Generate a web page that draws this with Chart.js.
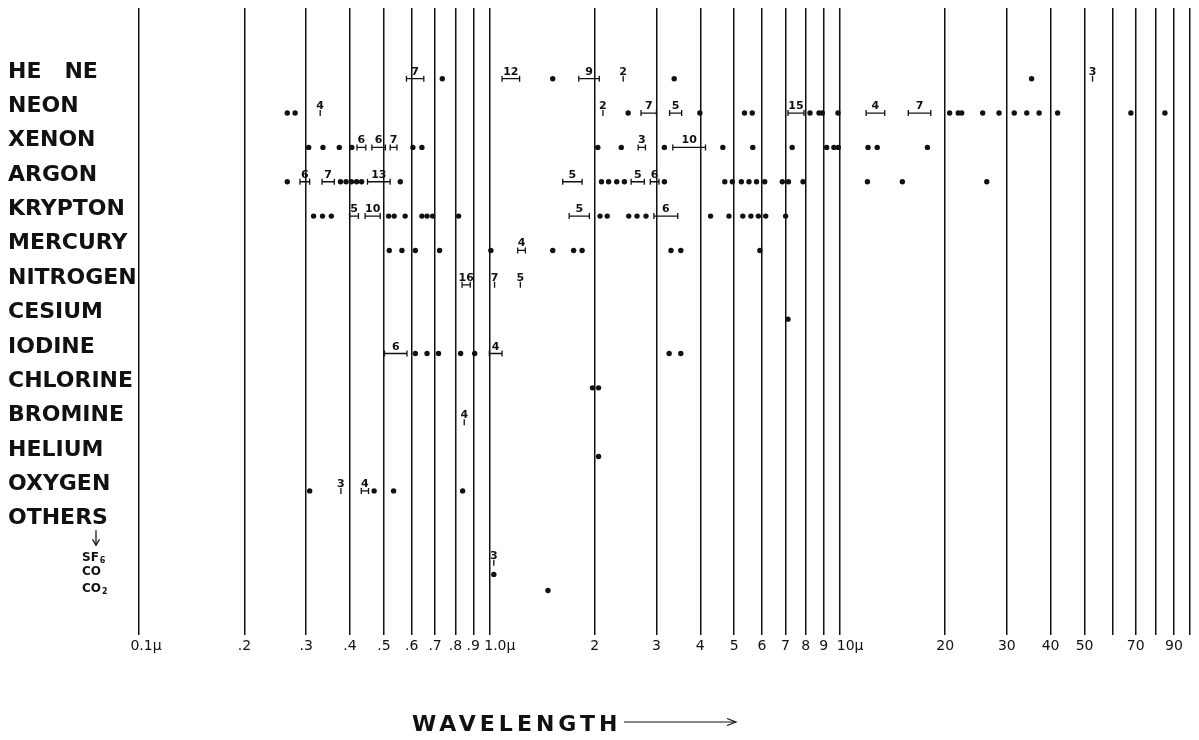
<!DOCTYPE html>
<html>
<head>
<meta charset="utf-8">
<script src="https://cdn.jsdelivr.net/npm/chart.js@4/dist/chart.umd.min.js"></script>
<style>
  html, body { margin: 0; padding: 0; background: #fff; }
  #wrap { width: 1199px; height: 740px; }
</style>
</head>
<body>
<div id="wrap"><canvas id="laserChart"></canvas></div>
<script>
// wavelength axis (microns)
const tickVals = [0.1, 0.2, 0.3, 0.4, 0.5, 0.6, 0.7, 0.8, 0.9, 1, 2, 3, 4, 5, 6, 7, 8, 9, 10, 20, 30, 40, 50, 60, 70, 80, 90, 100];
// leading spaces push the micron labels right of their line, as in the original
const tickText = ['\u20030.1µ', '.2', '.3', '.4', '.5', '.6', '.7', '.8', '.9', '\u2003\u20021.0µ', '2', '3', '4', '5', '6', '7', '8', '9', '\u2003\u200210µ', '20', '30', '40', '50', '', '70', '', '90', ''];

// rows
const rowNames = ['HE   NE', 'NEON', 'XENON', 'ARGON', 'KRYPTON', 'MERCURY', 'NITROGEN', 'CESIUM', 'IODINE', 'CHLORINE', 'BROMINE', 'HELIUM', 'OXYGEN', 'OTHERS'];
const subNames = [['SF', '6'], ['CO', ''], ['CO', '2']];
const rowPos = [0, 1, 2, 3, 4, 5, 6, 7, 8, 9, 10, 11, 12, 13, 14.09, 14.43, 14.9];

// single lines (dots) and groups of lines [from, to, count]
const heNeDots = [0.734, 1.517, 3.37, 35.3];
const heNeBands = [[0.58, 0.65, 7], [1.087, 1.22, 12], [1.80, 2.06, 9], [2.41, 2.41, 2], [52.7, 52.7, 3]];
const neonDots = [0.265, 0.279, 2.49, 3.99, 5.35, 5.63, 8.23, 8.73, 8.92, 9.89, 20.6, 21.8, 22.3, 25.6, 28.5, 31.5, 34.2, 37.1, 41.9, 67.8, 84.8];
const neonBands = [[0.329, 0.329, 4], [2.11, 2.11, 2], [2.71, 3.0, 7], [3.27, 3.54, 5], [7.12, 7.91, 15], [11.9, 13.45, 4], [15.7, 18.2, 7]];
const xenonDots = [0.305, 0.335, 0.373, 0.405, 0.605, 0.642, 2.04, 2.38, 3.16, 4.64, 5.65, 7.32, 9.18, 9.63, 9.91, 12.05, 12.8, 17.8];
const xenonBands = [[0.419, 0.444, 6], [0.462, 0.505, 6], [0.521, 0.545, 7], [2.66, 2.79, 3], [3.34, 4.14, 10]];
const argonDots = [0.265, 0.376, 0.390, 0.404, 0.418, 0.432, 0.557, 2.09, 2.19, 2.31, 2.43, 3.16, 4.70, 4.94, 5.24, 5.51, 5.79, 6.11, 6.86, 7.14, 7.86, 12.0, 15.1, 26.3];
const argonBands = [[0.288, 0.307, 6], [0.333, 0.361, 7], [0.449, 0.521, 13], [1.62, 1.84, 5], [2.54, 2.77, 5], [2.88, 3.05, 6]];
const kryptonDots = [0.315, 0.334, 0.354, 0.516, 0.535, 0.575, 0.642, 0.664, 0.689, 0.817, 2.07, 2.17, 2.50, 2.64, 2.80, 4.28, 4.83, 5.29, 5.58, 5.86, 6.15, 7.01];
const kryptonBands = [[0.399, 0.423, 5], [0.442, 0.488, 10], [1.69, 1.93, 5], [2.95, 3.45, 6]];
const mercuryDots = [0.518, 0.563, 0.615, 0.721, 1.01, 1.517, 1.74, 1.84, 3.30, 3.52, 5.92];
const mercuryBands = [[1.205, 1.267, 4]];
const nitrogenBands = [[0.836, 0.882, 16], [1.035, 1.035, 7], [1.226, 1.226, 5]];
const cesiumDots = [7.12];
const iodineDots = [0.615, 0.664, 0.716, 0.828, 0.908, 3.26, 3.52];
const iodineBands = [[0.502, 0.582, 6], [1.0, 1.087, 4]];
const chlorineDots = [1.97, 2.05];
const bromineBands = [[0.848, 0.848, 4]];
const heliumDots = [2.05];
const oxygenDots = [0.307, 0.469, 0.533, 0.839];
const oxygenBands = [[0.377, 0.377, 3], [0.431, 0.452, 4]];
const sf6Bands = [[1.03, 1.03, 3]];
const coDots = [1.03];
const co2Dots = [1.47];

const dotsByRow = [heNeDots, neonDots, xenonDots, argonDots, kryptonDots, mercuryDots, [], cesiumDots, iodineDots, chlorineDots, [], heliumDots, oxygenDots, [], [], coDots, co2Dots];
const bandsByRow = [heNeBands, neonBands, xenonBands, argonBands, kryptonBands, mercuryBands, nitrogenBands, [], iodineBands, [], bromineBands, [], oxygenBands, [], sf6Bands, [], []];

const INK = '#111';

// build datasets
let dotData = [];
dotsByRow.forEach((arr, i) => arr.forEach(x => dotData.push({ x: x, y: rowPos[i] })));

let bandSets = [];
bandsByRow.forEach((arr, i) => arr.forEach(b => {
    let pts = b[0] === b[1] ? [{ x: b[0], y: rowPos[i] }] : [{ x: b[0], y: rowPos[i] }, { x: b[1], y: rowPos[i] }];
    bandSets.push({
        data: pts,
        count: b[2],
        showLine: true,
        borderColor: INK,
        borderWidth: 1.3,
        pointStyle: 'line',
        rotation: 90,
        pointRadius: 3,
        pointBorderWidth: 1.3,
        pointBorderColor: INK,
        pointHoverRadius: 3
    });
}));

// numbers over the groups, row names, axis caption
const labelsPlugin = {
    id: 'labels',
    afterDraw(chart) {
        const ctx = chart.ctx;
        const xs = chart.scales.x, ys = chart.scales.y;
        ctx.save();
        ctx.fillStyle = INK;
        ctx.strokeStyle = INK;

        // group counts
        ctx.font = 'bold 11px "DejaVu Sans"';
        ctx.textAlign = 'center';
        ctx.textBaseline = 'alphabetic';
        chart.data.datasets.forEach(ds => {
            if (!ds.count) return;
            const a = xs.getPixelForValue(ds.data[0].x);
            const b = xs.getPixelForValue(ds.data[ds.data.length - 1].x);
            const y = ys.getPixelForValue(ds.data[0].y);
            ctx.fillText(String(ds.count), (a + b) / 2, y - 4);
        });

        // row names
        ctx.textAlign = 'left';
        ctx.font = 'bold 22px "DejaVu Sans"';
        rowNames.forEach((name, i) => {
            ctx.fillText(name, 8, ys.getPixelForValue(rowPos[i]) - 1);
        });
        const subShift = [-2, 1, 1];
        subNames.forEach((s, k) => {
            const y = ys.getPixelForValue(rowPos[14 + k]) + subShift[k];
            ctx.font = 'bold 12px "DejaVu Sans"';
            ctx.fillText(s[0], 82, y);
            const w = ctx.measureText(s[0]).width;
            ctx.font = 'bold 8px "DejaVu Sans"';
            ctx.fillText(s[1], 82 + w + 1, y + 2);
        });

        // arrow under OTHERS
        const oy = ys.getPixelForValue(rowPos[13]);
        ctx.lineWidth = 1.3;
        ctx.beginPath();
        ctx.moveTo(96, oy + 5);
        ctx.lineTo(96, oy + 19);
        ctx.stroke();
        ctx.beginPath();
        ctx.moveTo(92.5, oy + 14);
        ctx.lineTo(96, oy + 20);
        ctx.lineTo(99.5, oy + 14);
        ctx.stroke();

        // axis caption
        ctx.font = 'bold 22px "DejaVu Sans"';
        ctx.letterSpacing = '4px';
        ctx.fillText('WAVELENGTH', 412, 731);
        ctx.letterSpacing = '0px';
        ctx.lineWidth = 1.2;
        ctx.beginPath();
        ctx.moveTo(624, 722);
        ctx.lineTo(735, 722);
        ctx.stroke();
        ctx.beginPath();
        ctx.moveTo(727, 718.5);
        ctx.lineTo(736, 722);
        ctx.lineTo(727, 725.5);
        ctx.stroke();
        ctx.restore();
    }
};

const ctx = document.getElementById('laserChart').getContext('2d');
new Chart(ctx, {
    type: 'scatter',
    data: {
        datasets: [{
            data: dotData,
            pointRadius: 2.7,
            pointHoverRadius: 2.7,
            backgroundColor: INK,
            borderWidth: 0
        }].concat(bandSets)
    },
    options: {
        responsive: true,
        maintainAspectRatio: false,
        animation: false,
        events: [],
        layout: { padding: { left: 139, right: 9, top: 8, bottom: 82 } },
        plugins: {
            legend: { display: false },
            tooltip: { enabled: false }
        },
        scales: {
            x: {
                type: 'logarithmic',
                min: 0.1,
                max: 100,
                afterBuildTicks: (axis) => { axis.ticks = tickVals.map(v => ({ value: v })); },
                grid: { color: INK, lineWidth: 1.5, drawTicks: false },
                border: { display: false },
                ticks: {
                    autoSkip: false,
                    maxRotation: 0,
                    padding: 3,
                    color: INK,
                    font: { family: 'DejaVu Sans', size: 14 },
                    callback: (v, i) => tickText[i]
                }
            },
            y: {
                type: 'linear',
                reverse: true,
                min: -2.058,
                max: 16.2,
                display: false
            }
        }
    },
    plugins: [labelsPlugin]
});
</script>
</body>
</html>
